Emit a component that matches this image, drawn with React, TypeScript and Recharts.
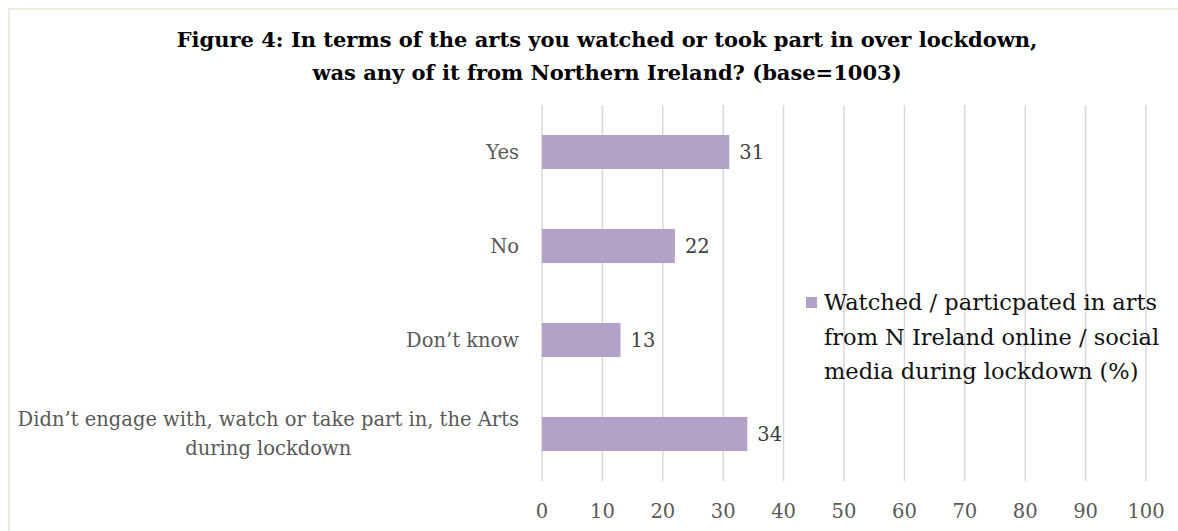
import React from 'react';
import { BarChart, Bar, XAxis, YAxis, CartesianGrid, Legend, LabelList } from 'recharts';

const categories = [
  'Yes',
  'No',
  'Don’t know',
  'Didn’t engage with, watch or take part in, the Arts\nduring lockdown',
];
const values = [31, 22, 13, 34];
const xTicks = [0, 10, 20, 30, 40, 50, 60, 70, 80, 90, 100];
const seriesName = 'Watched / particpated in arts from N Ireland online / social media during lockdown (%)';
const legendLines = ['Watched / particpated in arts', 'from N Ireland online / social', 'media during lockdown (%)'];
const titleLines = [
  'Figure 4: In terms of the arts you watched or took part in over lockdown,',
  'was any of it from Northern Ireland? (base=1003)',
];

const data = categories.map((name, i) => ({ name, value: values[i] }));

const FONT = '"DejaVu Serif", serif';
const BAR = '#b2a2c8';
const LABEL_SIZE = 19.5;

let ctx: CanvasRenderingContext2D | null = null;
function measure(text: string, size: number) {
  if (!ctx) ctx = document.createElement('canvas').getContext('2d');
  if (!ctx) return text.length * size * 0.5;
  ctx.font = `${size}px ${FONT}`;
  return ctx.measureText(text).width;
}

function CategoryTick(props: any) {
  const { x, y, payload } = props;
  const lines = String(payload.value).split('\n');
  const lh = 29;
  const w = Math.max(...lines.map((l) => measure(l, LABEL_SIZE)));
  const cx = x - 15 - w / 2;
  const start = y - ((lines.length - 1) * lh) / 2;
  return (
    <text fill="#595959" fontSize={LABEL_SIZE} fontFamily={FONT} textAnchor="middle">
      {lines.map((l, i) => (
        <tspan key={i} x={cx} y={start + i * lh} dy="0.35em">
          {l}
        </tspan>
      ))}
    </text>
  );
}

function LegendBox() {
  return (
    <div style={{ display: 'flex', alignItems: 'flex-start', fontFamily: FONT, fontSize: 22.5, color: '#111' }}>
      <div style={{ width: 11, height: 11, background: BAR, marginTop: 12, marginRight: 7, flexShrink: 0 }} />
      <div style={{ lineHeight: '34.5px', whiteSpace: 'nowrap' }} title={seriesName}>
        {legendLines.map((l) => (
          <div key={l}>{l}</div>
        ))}
      </div>
    </div>
  );
}

export default function App() {
  return (
    <div style={{ position: 'absolute', left: 0, top: 0, width: 1178, height: 531, background: '#fff', overflow: 'hidden' }}>
      <div
        style={{
          position: 'absolute',
          left: 8,
          top: 8,
          width: 1200,
          height: 560,
          border: '2px solid #eeecdf',
          boxSizing: 'border-box',
        }}
      />
      <div
        style={{
          position: 'absolute',
          left: 0,
          top: 23,
          width: 1214,
          textAlign: 'center',
          fontFamily: FONT,
          fontWeight: 'bold',
          fontSize: 21,
          lineHeight: '33px',
          color: '#000',
          whiteSpace: 'nowrap',
        }}
      >
        {titleLines.map((t) => (
          <div key={t}>{t}</div>
        ))}
      </div>
      <div style={{ position: 'absolute', left: 0, top: 0 }}>
        <BarChart
          width={1178}
          height={531}
          data={data}
          layout="vertical"
          margin={{ top: 105, right: 32, bottom: 0, left: 0 }}
          barCategoryGap={30}
        >
          <CartesianGrid horizontal={false} stroke="#d9d9d9" strokeWidth={1.5} />
          <XAxis
            type="number"
            domain={[0, 100]}
            ticks={xTicks}
            axisLine={false}
            tickLine={false}
            height={50}
            tickMargin={17}
            tick={{ fill: '#595959', fontSize: 19.5, fontFamily: FONT }}
            interval={0}
          />
          <YAxis
            type="category"
            dataKey="name"
            width={542}
            axisLine={false}
            tickLine={false}
            tick={<CategoryTick />}
            interval={0}
          />
          <Legend
            layout="horizontal"
            align="center"
            verticalAlign="middle"
            wrapperStyle={{ left: 806, top: 285, width: 370 }}
            content={() => <LegendBox />}
          />
          <Bar dataKey="value" name={seriesName} fill={BAR} isAnimationActive={false}>
            <LabelList
              dataKey="value"
              position="right"
              offset={10}
              fill="#404040"
              fontSize={19.5}
              fontFamily={FONT}
            />
          </Bar>
        </BarChart>
      </div>
    </div>
  );
}
